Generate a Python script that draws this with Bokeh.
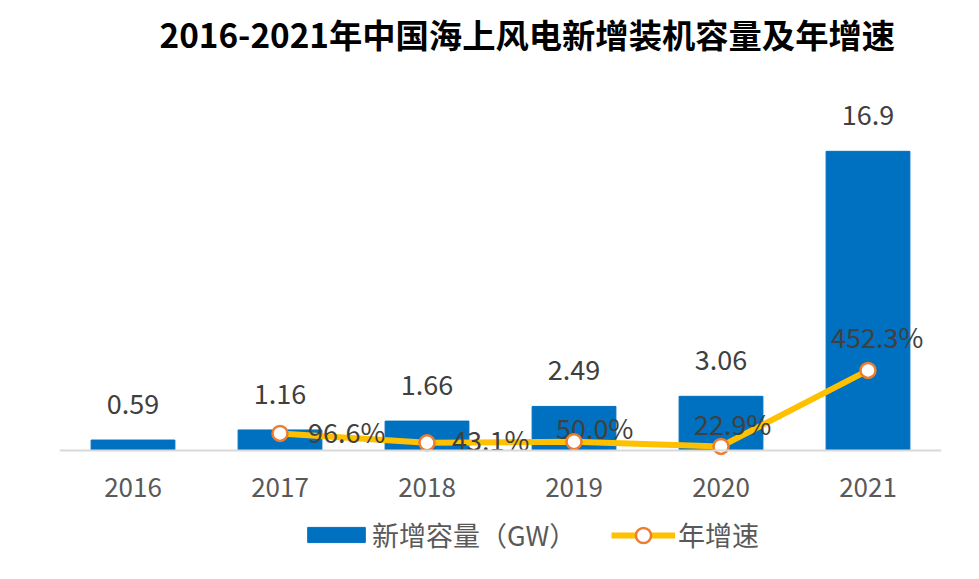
from bokeh.plotting import figure
from bokeh.models import Range1d, Legend, LegendItem, ColumnDataSource, Span, Label
from bokeh.core.properties import value
from bokeh.embed import file_html
from bokeh.resources import INLINE

years = ["2016", "2017", "2018", "2019", "2020", "2021"]
capacity = [0.59, 1.16, 1.66, 2.49, 3.06, 16.9]
capacity_labels = ["0.59", "1.16", "1.66", "2.49", "3.06", "16.9"]
rate_years = ["2017", "2018", "2019", "2020", "2021"]
rate = [96.6, 43.1, 50.0, 22.9, 452.3]
rate_labels = ["96.6%", "43.1%", "50.0%", "22.9%", "452.3%"]
title_text = "2016-2021年中国海上风电新增装机容量及年增速"

# label placement (screen px) for the growth-rate labels
rate_dx = [28, 25, -18, -27, -37]
rate_dy = [-2, -3, -14, -23, -34]

FONT = "Noto Sans CJK SC"
BLUE = "#0070C0"
GOLD = "#FFC000"
ORANGE = "#ED7D31"

Y0, Y1 = -6.384, 25.42
p = figure(x_range=years, y_range=Range1d(Y0, Y1), width=963, height=563,
           output_backend="svg", toolbar_location=None,
           min_border_left=59, min_border_right=22, min_border_top=0, min_border_bottom=0)
p.extra_y_ranges = {"rate": Range1d(Y0 * 100, Y1 * 100)}

p.add_layout(Label(x=0, y=23.56, x_offset=100, text=title_text, text_font=FONT,
                   text_font_size="33.3px", text_font_style="bold", text_color="#000000",
                   text_baseline="middle"))

bars = p.vbar(x=years, top=capacity, width=0.57, color=BLUE)
p.add_layout(Span(location=0, dimension="width", line_color="#D9D9D9", line_width=2))
p.text(x=years, y=capacity, text=capacity_labels, text_font=value(FONT), text_font_size="27px",
       text_color="#404040", text_align="center", text_baseline="alphabetic", y_offset=-36)

src = ColumnDataSource(dict(x=rate_years, y=rate, t=rate_labels, dx=rate_dx, dy=rate_dy))
line = p.line(x="x", y="y", source=src, y_range_name="rate", color=GOLD, line_width=6)
p.text(x="x", y="y", text="t", source=src, y_range_name="rate", text_font=value(FONT),
       text_font_size="27px", text_color="#404040", text_align="left", text_baseline="alphabetic",
       x_offset="dx", y_offset="dy")
dots = p.scatter(x="x", y="y", source=src, y_range_name="rate", size=15, fill_color="white",
                 line_color=ORANGE, line_width=2.5)

p.yaxis.visible = False
p.xgrid.visible = False
p.ygrid.visible = False
p.outline_line_color = None
p.xaxis.fixed_location = 0
p.xaxis.axis_line_color = None
p.xaxis.major_tick_line_color = None
p.xaxis.minor_tick_line_color = None
p.xaxis.major_label_text_font = FONT
p.xaxis.major_label_text_font_size = "26px"
p.xaxis.major_label_text_color = "#595959"
p.xaxis.major_label_standoff = 22

common = dict(orientation="horizontal", label_text_font=FONT, label_text_font_size="27px",
              label_text_color="#595959", padding=0, margin=0,
              border_line_color=None, background_fill_alpha=0)
legend_bar = Legend(items=[LegendItem(label="新增容量（GW）", renderers=[bars])],
                    location=(241, 9), glyph_width=72, glyph_height=19, label_standoff=0, **common)
legend_line = Legend(items=[LegendItem(label="年增速", renderers=[line, dots])],
                     location=(552, 9), glyph_width=64, glyph_height=38, label_standoff=3, **common)
p.add_layout(legend_bar, "center")
p.add_layout(legend_line, "center")

open("out.html", "w").write(file_html(p, INLINE))
